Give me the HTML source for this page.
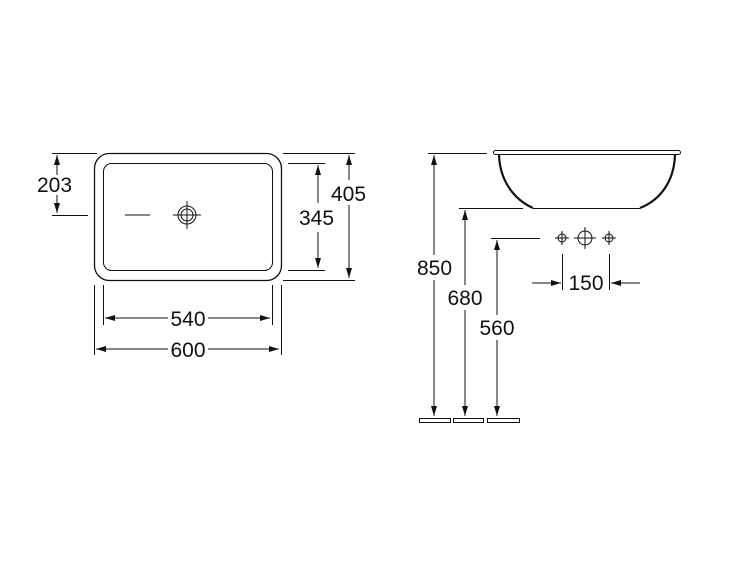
<!DOCTYPE html>
<html><head><style>body{margin:0;background:#fff}svg{display:block}text{font-family:"Liberation Sans",sans-serif;font-size:21px;fill:#111}</style></head><body>
<svg width="750" height="563" viewBox="0 0 750 563" xmlns="http://www.w3.org/2000/svg">
<defs><marker id="a" viewBox="0 0 10 6" refX="10" refY="3" markerWidth="10" markerHeight="6" orient="auto-start-reverse" markerUnits="userSpaceOnUse"><path d="M0,0L10,3L0,6z" fill="#111"/></marker></defs>
<g stroke="#111" fill="none" stroke-width="1">
<rect x="94.5" y="153.5" width="187" height="127" rx="15" stroke-width="1.3"/>
<rect x="103.5" y="163.5" width="169" height="107" rx="8"/>
<circle cx="187" cy="215" r="9"/><circle cx="187" cy="215" r="6"/>
<path d="M173 215H201M187 201V229M125 215H150"/>
<path d="M52 153.5H97M52 215.5H88"/>
<path d="M57 155V175M57 195V213" marker-start="url(#a)" marker-end="url(#a)"/>
<path d="M288 163.5H325M288 270.5H325M283 153.5H355M283 280.5H355"/>
<line x1="318" y1="165" x2="318" y2="203" marker-start="url(#a)"/>
<line x1="318" y1="232" x2="318" y2="268" marker-end="url(#a)"/>
<line x1="349" y1="155" x2="349" y2="180" marker-start="url(#a)"/>
<line x1="349" y1="205" x2="349" y2="278" marker-end="url(#a)"/>
<path d="M103.5 285V325M272.5 285V325M94.5 285V355M281.5 285V355"/>
<line x1="105" y1="318" x2="168" y2="318" marker-start="url(#a)"/>
<line x1="208" y1="318" x2="270" y2="318" marker-end="url(#a)"/>
<line x1="96" y1="349" x2="168" y2="349" marker-start="url(#a)"/>
<line x1="208" y1="349" x2="279" y2="349" marker-end="url(#a)"/>
<rect x="493.5" y="150.5" width="187" height="4" rx="2"/>
<path d="M499 155C500 182 515 200 533 208M675 155C674 182 660 200 640 208" stroke-width="2.2"/>
<path d="M533 208.5H640"/>
<path d="M428 153.5H487M459 208.5H523M491 238.5H540"/>
<line x1="434" y1="155" x2="434" y2="255" marker-start="url(#a)"/>
<line x1="434" y1="280" x2="434" y2="416" marker-end="url(#a)"/>
<line x1="465" y1="210" x2="465" y2="285" marker-start="url(#a)"/>
<line x1="465" y1="310" x2="465" y2="416" marker-end="url(#a)"/>
<line x1="497" y1="240" x2="497" y2="315" marker-start="url(#a)"/>
<line x1="497" y1="340" x2="497" y2="416" marker-end="url(#a)"/>
<rect x="419.5" y="418.5" width="31" height="4"/><rect x="453.5" y="418.5" width="30" height="4"/><rect x="487.5" y="418.5" width="32" height="4"/>
<circle cx="562" cy="238" r="4"/><circle cx="609" cy="238" r="4"/><circle cx="585" cy="238" r="7"/>
<path d="M555 238H569M562 231V245M602 238H616M609 231V245M574 238H596M585 227V249"/>
<path d="M562.5 254V290M609.5 254V290"/>
<line x1="532" y1="283" x2="561" y2="283" marker-end="url(#a)"/>
<line x1="640" y1="283" x2="611" y2="283" marker-end="url(#a)"/>
</g>
<text x="37" y="192">203</text>
<text x="299" y="225">345</text>
<text x="331" y="201">405</text>
<text x="188" y="326" text-anchor="middle">540</text>
<text x="188" y="357" text-anchor="middle">600</text>
<text x="417" y="275">850</text>
<text x="465" y="305" text-anchor="middle">680</text>
<text x="497" y="335" text-anchor="middle">560</text>
<text x="586" y="290" text-anchor="middle">150</text>
</svg></body></html>
